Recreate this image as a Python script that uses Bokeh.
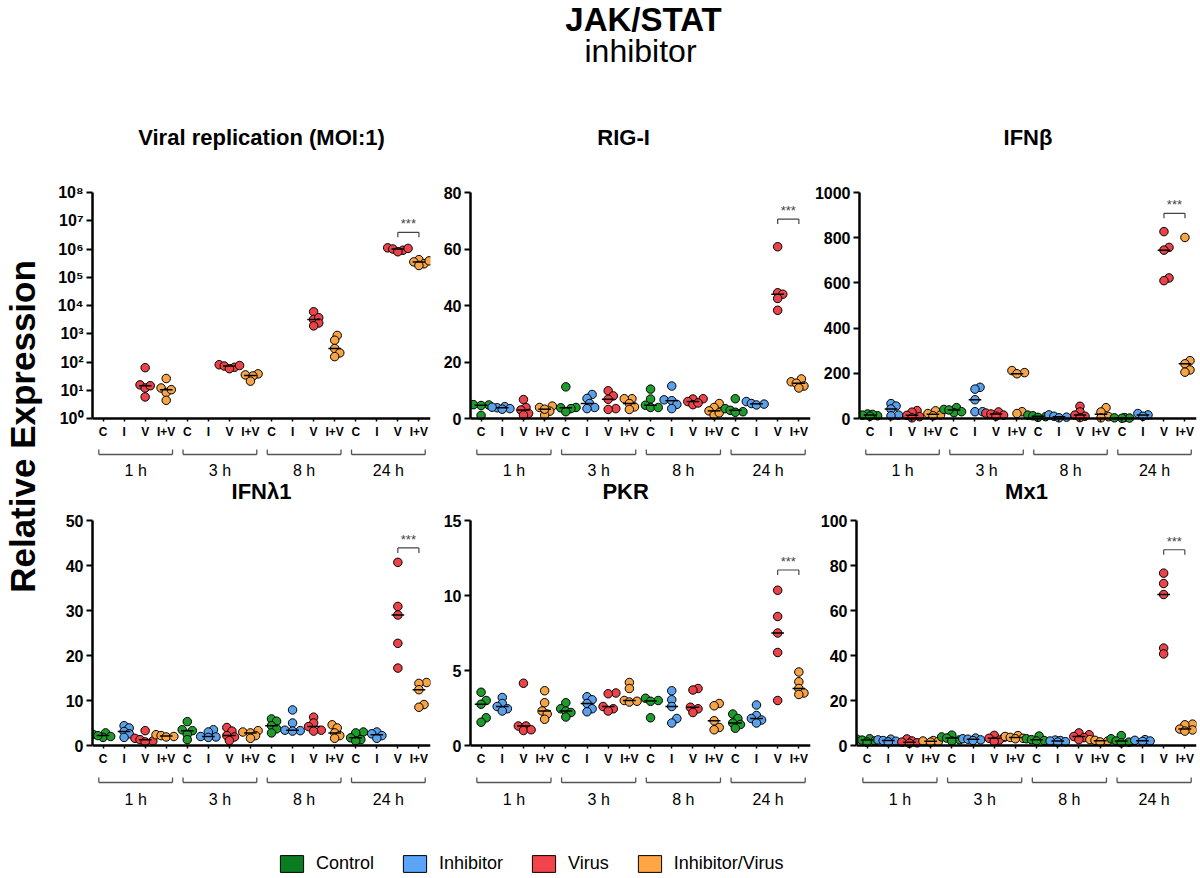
import math
from bokeh.plotting import figure
from bokeh.models import (Range1d, LinearScale, FixedTicker, Legend, LegendItem,
                          ColumnDataSource)
from bokeh.layouts import row, column
from bokeh.embed import file_html
from bokeh.resources import INLINE
from bokeh.core.properties import value

# ---------------- data ----------------
TREATMENTS = ["C", "I", "V", "I+V"]
TIMES = ["1 h", "3 h", "8 h", "24 h"]
LEGEND_LABELS = ["Control", "Inhibitor", "Virus", "Inhibitor/Virus"]
POINT_COLORS = ["#1f9a2d", "#5ba0ea", "#ea4349", "#f7a446"]
LEGEND_COLORS = ["#0b7d21", "#5aa5f6", "#f2434a", "#ffa544"]

PANEL_TITLES = ["Viral replication (MOI:1)", "RIG-I", "IFNβ", "IFNλ1", "PKR", "Mx1"]

# one list per group: 1 h (C, I, V, I+V), 3 h (...), 8 h (...), 24 h (...)
VIRAL = [
    [], [], [63, 15.5, 12, 14.5, 5.8], [26, 12, 8.3, 10.5, 4.4],
    [], [], [80, 72, 65, 58, 75], [38, 35, 32, 21],
    [], [], [6000, 3200, 3700, 2400, 1900], [870, 590, 300, 210, 155],
    [], [], [1.1e6, 0.9e6, 1.0e6, 0.8e6, 1.05e6], [4.2e5, 3.5e5, 3.0e5, 2.6e5, 3.8e5],
]
RIG_I = [
    [4.8, 4.6, 1.1, 4.9], [4.2, 3.8, 3.5, 3.3, 4.0], [6.7, 3.9, 3.0, 1.8, 1.2], [4.4, 3.9, 2.6, 1.2, 3.3],
    [11.2, 3.9, 3.5, 3.8, 2.4], [8.5, 7.1, 5.3, 3.9, 3.5], [9.8, 8.0, 6.8, 3.5, 3.2], [7.0, 7.0, 5.3, 4.1, 3.2],
    [10.4, 6.9, 4.7, 3.9, 3.9], [11.5, 6.6, 6.3, 5.0, 3.5], [7.0, 6.9, 6.0, 4.9, 5.5], [5.3, 3.9, 2.7, 1.2, 2.0],
    [7.0, 3.5, 2.9, 2.4, 2.2], [6.0, 5.3, 4.8, 5.1], [60.8, 44.5, 44.0, 42.5, 38.3], [14.0, 13.0, 12.5, 11.5, 10.8],
]
IFNB = [
    [20, 15, 12, 18, 10], [66, 55, 42, 15, 12], [35, 28, 14, 8, 3], [34, 22, 16, 12],
    [40, 48, 26, 38, 30], [138, 130, 83, 30, 30], [29, 24, 20, 15, 10], [212, 203, 198, 30, 22],
    [15, 12, 8, 5], [16, 10, 6, 3], [54, 29, 15, 10, 4], [48, 29, 8, 3],
    [4, 2, 1, 3], [22, 16, 10], [827, 757, 745, 622, 610], [801, 256, 242, 215, 205],
]
IFNL1 = [
    [2.8, 2.5, 1.8, 2.2, 2.0], [4.4, 3.9, 3.1, 2.6, 1.8], [3.3, 1.6, 1.3, 1.0, 0.8], [2.4, 2.2, 1.9, 2.0],
    [5.3, 3.5, 3.3, 2.5, 1.3], [3.5, 3.0, 2.0, 1.9, 1.8], [4.0, 3.2, 2.2, 1.9, 1.1], [3.3, 3.0, 2.8, 2.2, 1.6],
    [5.9, 5.4, 4.4, 3.7, 2.8], [7.9, 5.0, 3.4, 3.3, 3.2], [6.3, 5.0, 4.2, 3.4, 3.2], [4.6, 3.9, 2.8, 2.2, 1.6],
    [3.0, 2.8, 1.7, 1.3, 1.0], [3.0, 2.6, 2.2, 1.6], [40.7, 30.9, 29.0, 22.7, 17.2], [14.0, 13.8, 12.4, 9.1, 8.5],
]
PKR = [
    [3.55, 3.0, 2.75, 1.85, 1.55], [3.2, 2.8, 2.6, 2.45, 2.3], [4.15, 1.3, 1.3, 1.0, 1.05], [3.65, 2.85, 2.3, 2.1, 1.75],
    [2.85, 2.45, 2.3, 2.2, 1.9], [3.25, 3.05, 2.8, 2.45, 2.25], [3.5, 3.45, 2.6, 2.45, 2.3], [4.2, 3.8, 3.0, 2.9, 2.95],
    [3.15, 3.0, 2.95, 1.85], [3.65, 3.05, 2.6, 1.8, 1.5], [3.8, 3.7, 2.55, 2.45, 2.2], [2.8, 2.65, 1.65, 1.2, 1.05],
    [2.1, 1.8, 1.5, 1.4, 1.15], [2.7, 2.0, 1.8, 1.7, 1.5], [10.35, 8.6, 7.5, 6.2, 3.0], [4.9, 4.25, 3.8, 3.5, 3.4],
]
MX1 = [
    [3.0, 2.8, 2.4, 2.0, 1.5], [2.8, 2.5, 2.2, 1.9, 1.6], [2.9, 2.0, 1.5, 1.2, 1.0], [2.2, 2.0, 1.8, 1.5],
    [4.6, 3.8, 3.3, 2.5, 2.0], [3.3, 3.0, 2.8, 2.5, 2.2], [4.5, 3.7, 3.2, 2.4, 1.8], [4.4, 4.0, 3.6, 3.2, 3.0],
    [4.2, 3.0, 2.6, 2.2, 2.0], [2.4, 2.2, 2.0, 1.7, 1.5], [5.6, 4.8, 4.0, 3.5, 2.6], [2.6, 2.3, 2.0, 1.6],
    [4.4, 3.0, 2.0, 1.5, 1.2], [2.6, 2.3, 2.0, 1.8], [76.6, 72.0, 67.1, 43.3, 40.7], [9.5, 9.2, 7.3, 6.9, 6.4],
]

Y_TICKS_VIRAL = [1, 10, 100, 1000, 10000, 100000, 1000000, 10000000, 100000000]
Y_TICKS_RIG_I = [0, 20, 40, 60, 80]
Y_TICKS_IFNB = [0, 200, 400, 600, 800, 1000]
Y_TICKS_IFNL1 = [0, 10, 20, 30, 40, 50]
Y_TICKS_PKR = [0, 5, 10, 15]
Y_TICKS_MX1 = [0, 20, 40, 60, 80, 100]
SUPERSCRIPTS = ["⁰", "¹", "²", "³", "⁴", "⁵", "⁶", "⁷", "⁸"]

# significance bracket height (24 h V vs I+V) and label
SIG_Y = [3.9e6, 70.6, 908, 43.9, 11.7, 87]
SIG_LABEL = "***"

FONT = "Liberation Sans"
X_START, X_END = -0.5, 15.55


def swarm_offsets(ypx, d):
    """Deterministic beeswarm: horizontal pixel offsets that limit overlap."""
    n = len(ypx)
    xs = [0.0] * n
    order = sorted(range(n), key=lambda i: ypx[i])
    placed = []
    step = d * 0.3
    cands = [0.0]
    for k in range(1, 5):
        cands += [k * step, -k * step]
    for i in order:
        best, best_dist = 0.0, -1.0
        for c in cands:
            md = min([math.hypot(c - px, ypx[i] - py) for px, py in placed] or [1e9])
            if md >= 0.62 * d:
                best = c
                break
            if md > best_dist:
                best, best_dist = c, md
        placed.append((best, ypx[i]))
        xs[i] = best
    return xs


def make_panel(idx, groups, yticks, log, width, height, bl, br, top_pad, bot_pad,
               title_gap, title_dx, brk_y, lab_y):
    fw = width - bl - br
    data_px = height - top_pad - bot_pad
    px_per_cat = fw / (X_END - X_START)
    ymin, ymax = yticks[0], yticks[-1]
    if log:
        lmin, lmax = math.log10(ymin), math.log10(ymax)
        to_px = lambda v: (math.log10(v) - lmin) / (lmax - lmin) * data_px
        k = (lmax - lmin) / data_px
        yr = Range1d(10 ** (lmin - k * bot_pad), 10 ** (lmax + k * top_pad))
    else:
        to_px = lambda v: (v - ymin) / (ymax - ymin) * data_px
        k = (ymax - ymin) / data_px
        yr = Range1d(ymin - k * bot_pad, ymax + k * top_pad)

    p = figure(width=width, height=height, x_range=Range1d(X_START, X_END), y_range=yr,
               y_axis_type="log" if log else "linear", toolbar_location=None,
               output_backend="svg", min_border_left=bl, min_border_right=br,
               min_border_top=0, min_border_bottom=0, outline_line_color=None)
    p.grid.visible = False
    # pixel-offset range: 0 at the x axis, positive downward
    p.extra_y_ranges = {"px": Range1d(start=bot_pad, end=-(data_px + top_pad))}
    p.extra_y_scales = {"px": LinearScale()}

    xa = p.xaxis[0]
    xa.fixed_location = ymin
    xa.ticker = FixedTicker(ticks=list(range(16)))
    xa.major_label_overrides = {i: TREATMENTS[i % 4] for i in range(16)}
    xa.axis_line_width = 2.5
    xa.axis_line_color = "black"
    xa.major_tick_out = 3
    xa.major_tick_in = 0
    xa.major_tick_line_width = 1.5
    xa.minor_tick_out = 0
    xa.minor_tick_in = 0
    xa.major_label_standoff = 3
    xa.major_label_text_font = FONT
    xa.major_label_text_font_style = "bold"
    xa.major_label_text_font_size = "12px"
    xa.major_label_text_color = "black"

    ya = p.yaxis[0]
    ya.ticker = FixedTicker(ticks=yticks)
    ya.bounds = (ymin, ymax)
    ya.axis_line_width = 2.5
    ya.axis_line_color = "black"
    ya.major_tick_out = 6
    ya.major_tick_in = 0
    ya.major_tick_line_width = 2
    ya.minor_tick_out = 0
    ya.minor_tick_in = 0
    ya.major_label_standoff = 3
    ya.major_label_text_font = FONT
    ya.major_label_text_font_style = "bold"
    ya.major_label_text_font_size = "16px"
    ya.major_label_text_color = "black"
    if log:
        ya.major_label_overrides = {t: "10" + SUPERSCRIPTS[j] for j, t in enumerate(yticks)}

    # panel title
    p.text(x=[(X_START + X_END) / 2 + title_dx], y=[-(data_px + title_gap)], text=[PANEL_TITLES[idx]],
           y_range_name="px", text_font=value(FONT), text_font_style="bold",
           text_font_size="22px", text_align="center", text_baseline="middle", text_color="black")

    # points (beeswarm) and medians
    d = 8.5
    xs, ys, cs = [], [], []
    mx0, mx1, my = [], [], []
    for g, vals in enumerate(groups):
        if not vals:
            continue
        offs = swarm_offsets([to_px(v) for v in vals], d)
        for v, o in zip(vals, offs):
            xs.append(g + o / px_per_cat)
            ys.append(v)
            cs.append(POINT_COLORS[g % 4])
        s = sorted(vals)
        n = len(s)
        med = s[n // 2] if n % 2 else 0.5 * (s[n // 2 - 1] + s[n // 2])
        mx0.append(g - 0.3)
        mx1.append(g + 0.3)
        my.append(med)
    src = ColumnDataSource(dict(x=xs, y=ys, c=cs))
    p.scatter("x", "y", source=src, size=d, fill_color="c", line_color="black", line_width=1)
    p.segment(x0=mx0, x1=mx1, y0=my, y1=my, line_color="black", line_width=1.5)

    # time brackets under the axis
    bx0 = [4 * t - 0.2 for t in range(4)]
    bx1 = [4 * t + 3.3 for t in range(4)]
    p.segment(x0=bx0, x1=bx1, y0=[brk_y] * 4, y1=[brk_y] * 4, y_range_name="px",
              line_color="#555555", line_width=1.3)
    p.segment(x0=bx0 + bx1, x1=bx0 + bx1, y0=[brk_y] * 8, y1=[brk_y - 5] * 8, y_range_name="px",
              line_color="#555555", line_width=1.3)
    p.text(x=[4 * t + 1.55 for t in range(4)], y=[lab_y] * 4, text=TIMES, y_range_name="px",
           text_font=value(FONT), text_font_size="16px", text_align="center",
           text_baseline="middle", text_color="black")

    # significance bracket
    sy = -to_px(SIG_Y[idx])
    p.segment(x0=[14], x1=[15], y0=[sy], y1=[sy], y_range_name="px", line_color="#444444", line_width=1.2)
    p.segment(x0=[14, 15], x1=[14, 15], y0=[sy, sy], y1=[sy + 5, sy + 5], y_range_name="px",
              line_color="#444444", line_width=1.2)
    p.text(x=[14.5], y=[sy - 1], text=[SIG_LABEL], y_range_name="px", text_font=value(FONT),
           text_font_size="13px", text_align="center", text_baseline="bottom", text_color="#444444")
    return p


TOP_H, BOT_H = 403, 332
p1 = make_panel(0, VIRAL, Y_TICKS_VIRAL, True, 388, TOP_H, 40, 10, 117, 60, 55, 0.0, 36, 52)
p2 = make_panel(1, RIG_I, Y_TICKS_RIG_I, False, 371, TOP_H, 30, 1, 117, 60, 55, -0.8, 36, 52)
p3 = make_panel(2, IFNB, Y_TICKS_IFNB, False, 387, TOP_H, 45, 2, 117, 60, 55, 0.0, 36, 52)
p4 = make_panel(3, IFNL1, Y_TICKS_IFNL1, False, 388, BOT_H, 40, 10, 42, 65, 29, 0.0, 37, 54)
p5 = make_panel(4, PKR, Y_TICKS_PKR, False, 371, BOT_H, 30, 1, 42, 65, 29, -0.7, 37, 54)
p6 = make_panel(5, MX1, Y_TICKS_MX1, False, 387, BOT_H, 45, 2, 42, 65, 29, 0.0, 37, 54)


def blank(width, height):
    f = figure(width=width, height=height, x_range=Range1d(0, width), y_range=Range1d(0, height),
               toolbar_location=None, output_backend="svg", min_border=0,
               x_axis_location=None, y_axis_location=None, outline_line_color=None)
    f.grid.visible = False
    return f


title_fig = blank(1198, 75)
title_fig.text(x=[643], y=[56], text=["JAK/STAT"], text_font=value(FONT), text_font_style="bold",
               text_font_size="33px", text_align="center", text_baseline="middle", text_color="black")
title_fig.text(x=[640], y=[25], text=["inhibitor"], text_font=value(FONT),
               text_font_size="32px", text_align="center", text_baseline="middle", text_color="black")

ylab_fig = blank(52, TOP_H + BOT_H)
ylab_fig.text(x=[22], y=[384], text=["Relative Expression"], text_font=value(FONT),
              text_font_style="bold", text_font_size="35px", angle=math.pi / 2,
              text_align="center", text_baseline="middle", text_color="black")

leg_fig = blank(1198, 66)
items = []
for lab, col in zip(LEGEND_LABELS, LEGEND_COLORS):
    r = leg_fig.rect(x=[-1000], y=[-1000], width=1, height=1, fill_color=col,
                     line_color="black", line_width=1)
    items.append(LegendItem(label=lab, renderers=[r]))
legend = Legend(items=items, orientation="horizontal", location=(277, 2),
                glyph_width=29, glyph_height=21, label_standoff=10, spacing=26,
                padding=0, margin=0, border_line_color=None, background_fill_alpha=0,
                label_text_font=FONT, label_text_font_size="18px", label_text_color="black",
                label_height=21)
leg_fig.add_layout(legend)

layout = column(
    title_fig,
    row(ylab_fig, column(row(p1, p2, p3), row(p4, p5, p6))),
    leg_fig,
)

open("out.html", "w").write(file_html(layout, INLINE))
